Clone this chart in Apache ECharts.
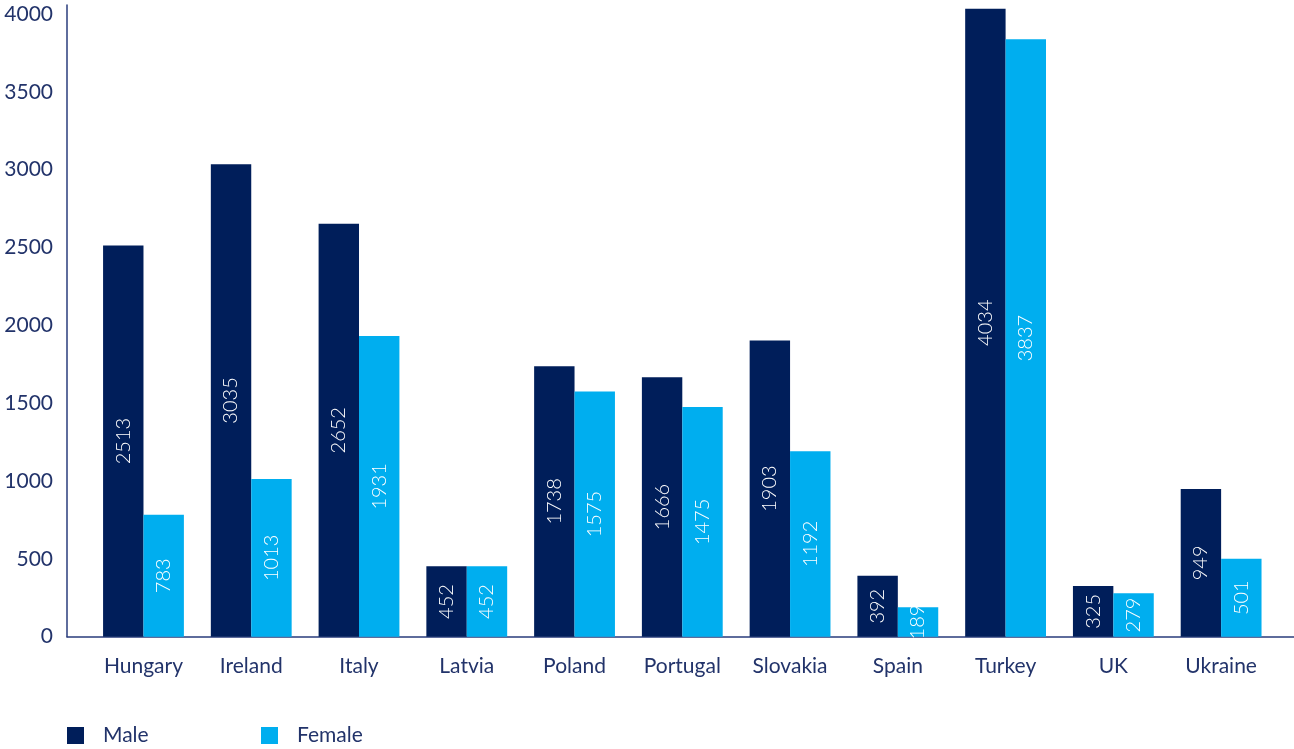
<!DOCTYPE html>
<html>
<head>
<meta charset="utf-8">
<script src="https://cdn.jsdelivr.net/npm/echarts@6/dist/echarts.min.js"></script>
<style>
html,body{margin:0;padding:0;background:#fff;}
#c{width:1294px;height:749px;}
</style>
</head>
<body>
<div id="c"></div>
<script>
const categories = ['Hungary','Ireland','Italy','Latvia','Poland','Portugal','Slovakia','Spain','Turkey','UK','Ukraine'];
const maleValues = [2513, 3035, 2652, 452, 1738, 1666, 1903, 392, 4034, 325, 949];
const femaleValues = [783, 1013, 1931, 452, 1575, 1475, 1192, 189, 3837, 279, 501];
const seriesNames = ['Male', 'Female'];

const TEXT = '#22336a';
const AXIS = '#2a3d7c';
const FONT = 'Lato, "Open Sans", sans-serif';

const chart = echarts.init(document.getElementById('c'));
const dataLabel = {
  show: true, position: 'inside', rotate: 90, color: '#ffffff',
  fontSize: 20, fontFamily: FONT, fontWeight: 300
};
chart.setOption({
  animation: false,
  backgroundColor: '#ffffff',
  textStyle: { fontFamily: FONT },
  grid: [
    { left: 89.6, right: 19, top: 6.2, bottom: 112.3 },
    { left: 67, right: 0, top: 5, bottom: 112.3 }
  ],
  legend: [
    { data: ['Male'], left: 67, top: 725, padding: 0, itemWidth: 17, itemHeight: 17, icon: 'rect',
      textStyle: { color: TEXT, fontSize: 21, fontFamily: FONT, padding: [0,0,0,14] } },
    { data: ['Female'], left: 261, top: 725, padding: 0, itemWidth: 17, itemHeight: 17, icon: 'rect',
      textStyle: { color: TEXT, fontSize: 21, fontFamily: FONT, padding: [0,0,0,14] } }
  ],
  xAxis: [
    { type: 'category', gridIndex: 0, data: categories,
      axisLine: { show: false }, axisTick: { show: false },
      axisLabel: { color: TEXT, fontSize: 21, fontFamily: FONT, margin: 19 } },
    { type: 'value', gridIndex: 1, min: 0, max: 1,
      axisLine: { show: true, lineStyle: { color: AXIS, width: 1.5 } },
      axisTick: { show: false }, axisLabel: { show: false }, splitLine: { show: false } }
  ],
  yAxis: [
    { type: 'value', gridIndex: 0, min: 0, max: 4050, interval: 500, offset: 22.6,
      axisLine: { show: false }, axisTick: { show: false }, splitLine: { show: false },
      axisLabel: { color: TEXT, fontSize: 21, fontFamily: FONT, margin: 14, padding: [0,0,12,0],
        showMaxLabel: false,
        formatter: function (v) { return v % 500 === 0 ? String(v) : ''; } } },
    { type: 'value', gridIndex: 1, min: 0, max: 1,
      axisLine: { show: true, lineStyle: { color: AXIS, width: 1.5 } },
      axisTick: { show: false }, axisLabel: { show: false }, splitLine: { show: false } }
  ],
  series: [
    { name: seriesNames[0], type: 'bar', xAxisIndex: 0, yAxisIndex: 0, data: maleValues,
      itemStyle: { color: '#001e5a' }, barGap: '0%', barCategoryGap: '25%', label: dataLabel },
    { name: seriesNames[1], type: 'bar', xAxisIndex: 0, yAxisIndex: 0, data: femaleValues,
      itemStyle: { color: '#00aeef' }, barGap: '0%', barCategoryGap: '25%', label: dataLabel }
  ]
});
</script>
</body>
</html>
